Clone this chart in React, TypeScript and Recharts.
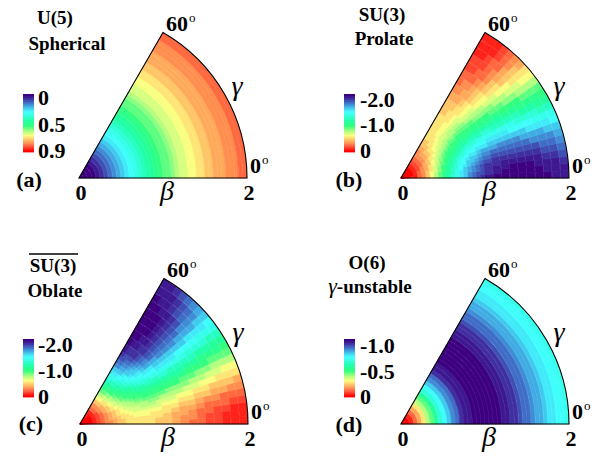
import React from 'react';
import { RadialBarChart, RadialBar, PolarAngleAxis, PolarRadiusAxis, Cell } from 'recharts';

const W = 606;
const H = 457;
const R = 168;

// ---------- data ----------
// beta ring centres (step 0.05) for gamma-independent surfaces
const betaFine = [
  0.025, 0.075, 0.125, 0.175, 0.225, 0.275, 0.325, 0.375, 0.425, 0.475,
  0.525, 0.575, 0.625, 0.675, 0.725, 0.775, 0.825, 0.875, 0.925, 0.975,
  1.025, 1.075, 1.125, 1.175, 1.225, 1.275, 1.325, 1.375, 1.425, 1.475,
  1.525, 1.575, 1.625, 1.675, 1.725, 1.775, 1.825, 1.875, 1.925, 1.975,
];
// U(5) spherical surface, by beta ring
const sphericalE = [
  0.0006, 0.0056, 0.0154, 0.0297, 0.0482, 0.0703, 0.0955, 0.1233, 0.153, 0.1841,
  0.2161, 0.2485, 0.2809, 0.313, 0.3445, 0.3752, 0.405, 0.4336, 0.4611, 0.4873,
  0.5123, 0.5361, 0.5586, 0.5799, 0.6001, 0.6191, 0.6371, 0.6541, 0.67, 0.6851,
  0.6993, 0.7127, 0.7253, 0.7372, 0.7485, 0.7591, 0.7691, 0.7785, 0.7875, 0.7959,
];
// O(6) gamma-unstable surface, by beta ring
const unstableE = [
  -0.0025, -0.0222, -0.0606, -0.1153, -0.1835, -0.2615, -0.3456, -0.4324, -0.5183, -0.6008,
  -0.6775, -0.7469, -0.808, -0.8601, -0.9033, -0.9377, -0.9639, -0.9824, -0.9939, -0.9994,
  -0.9994, -0.9948, -0.9863, -0.9745, -0.9599, -0.9432, -0.9248, -0.9051, -0.8844, -0.863,
  -0.8411, -0.819, -0.7969, -0.7749, -0.7531, -0.7315, -0.7104, -0.6896, -0.6694, -0.6497,
];

// gamma-dependent surfaces: inner beta rings (0..1, step 0.05), outer rings (1..2, step 0.1)
const betaInner = [
  0.025, 0.075, 0.125, 0.175, 0.225, 0.275, 0.325, 0.375, 0.425, 0.475,
  0.525, 0.575, 0.625, 0.675, 0.725, 0.775, 0.825, 0.875, 0.925, 0.975,
];
const betaOuter = [1.05, 1.15, 1.25, 1.35, 1.45, 1.55, 1.65, 1.75, 1.85, 1.95];
const gammaEdges = [
  0, 2.5, 5, 7.5, 10, 12.5, 15, 17.5, 20, 22.5, 25, 27.5, 30,
  32.5, 35, 37.5, 40, 42.5, 45, 47.5, 50, 52.5, 55, 57.5, 60,
];

// SU(3) prolate surface; rows = beta rings, columns = gamma slices from 0 to 60 deg
const prolateInner = [
  [-0.003, -0.003, -0.003, -0.003, -0.003, -0.003, -0.003, -0.003, -0.003, -0.003, -0.003, -0.003, -0.003, -0.003, -0.003, -0.003, -0.003, -0.003, -0.003, -0.003, -0.003, -0.003, -0.003, -0.003],
  [-0.02, -0.02, -0.02, -0.02, -0.02, -0.02, -0.02, -0.02, -0.02, -0.02, -0.02, -0.02, -0.02, -0.02, -0.02, -0.02, -0.02, -0.02, -0.02, -0.02, -0.02, -0.02, -0.02, -0.02],
  [-0.07, -0.07, -0.07, -0.07, -0.07, -0.06, -0.06, -0.06, -0.06, -0.06, -0.06, -0.06, -0.06, -0.06, -0.06, -0.06, -0.06, -0.06, -0.06, -0.06, -0.06, -0.06, -0.06, -0.06],
  [-0.13, -0.13, -0.13, -0.13, -0.13, -0.13, -0.12, -0.12, -0.12, -0.12, -0.12, -0.12, -0.12, -0.11, -0.11, -0.11, -0.11, -0.11, -0.11, -0.10, -0.10, -0.10, -0.10, -0.10],
  [-0.21, -0.21, -0.21, -0.21, -0.21, -0.21, -0.20, -0.20, -0.20, -0.19, -0.19, -0.19, -0.18, -0.18, -0.18, -0.17, -0.17, -0.17, -0.16, -0.16, -0.16, -0.16, -0.16, -0.16],
  [-0.32, -0.31, -0.31, -0.31, -0.31, -0.30, -0.30, -0.29, -0.29, -0.28, -0.27, -0.27, -0.26, -0.25, -0.25, -0.24, -0.24, -0.23, -0.23, -0.22, -0.22, -0.22, -0.21, -0.21],
  [-0.43, -0.43, -0.43, -0.42, -0.42, -0.41, -0.40, -0.39, -0.39, -0.38, -0.37, -0.36, -0.35, -0.34, -0.33, -0.32, -0.31, -0.30, -0.29, -0.28, -0.28, -0.28, -0.27, -0.27],
  [-0.55, -0.55, -0.55, -0.54, -0.54, -0.53, -0.52, -0.50, -0.49, -0.48, -0.46, -0.45, -0.43, -0.42, -0.40, -0.39, -0.38, -0.36, -0.35, -0.34, -0.34, -0.33, -0.33, -0.33],
  [-0.69, -0.68, -0.68, -0.67, -0.66, -0.65, -0.63, -0.62, -0.60, -0.58, -0.56, -0.54, -0.52, -0.50, -0.48, -0.46, -0.44, -0.43, -0.41, -0.40, -0.39, -0.38, -0.38, -0.37],
  [-0.82, -0.82, -0.81, -0.80, -0.79, -0.77, -0.75, -0.73, -0.71, -0.68, -0.66, -0.63, -0.60, -0.58, -0.55, -0.53, -0.51, -0.48, -0.47, -0.45, -0.44, -0.43, -0.42, -0.42],
  [-0.95, -0.95, -0.94, -0.93, -0.91, -0.89, -0.87, -0.84, -0.81, -0.78, -0.75, -0.72, -0.68, -0.65, -0.62, -0.59, -0.56, -0.54, -0.51, -0.49, -0.48, -0.46, -0.45, -0.45],
  [-1.08, -1.08, -1.07, -1.05, -1.03, -1.01, -0.98, -0.95, -0.91, -0.88, -0.84, -0.80, -0.76, -0.72, -0.68, -0.64, -0.61, -0.58, -0.55, -0.53, -0.51, -0.49, -0.48, -0.47],
  [-1.20, -1.20, -1.19, -1.17, -1.14, -1.12, -1.08, -1.05, -1.01, -0.96, -0.92, -0.87, -0.82, -0.78, -0.73, -0.69, -0.65, -0.61, -0.58, -0.55, -0.53, -0.51, -0.50, -0.49],
  [-1.32, -1.31, -1.30, -1.28, -1.25, -1.22, -1.18, -1.14, -1.09, -1.04, -0.99, -0.94, -0.88, -0.83, -0.78, -0.73, -0.68, -0.64, -0.60, -0.57, -0.54, -0.52, -0.51, -0.50],
  [-1.43, -1.42, -1.40, -1.38, -1.35, -1.31, -1.27, -1.22, -1.17, -1.11, -1.05, -0.99, -0.93, -0.87, -0.81, -0.76, -0.71, -0.66, -0.61, -0.58, -0.55, -0.52, -0.51, -0.50],
  [-1.52, -1.51, -1.50, -1.47, -1.44, -1.39, -1.35, -1.29, -1.24, -1.17, -1.11, -1.04, -0.97, -0.91, -0.84, -0.78, -0.72, -0.67, -0.62, -0.58, -0.55, -0.52, -0.50, -0.50],
  [-1.61, -1.60, -1.58, -1.55, -1.51, -1.47, -1.42, -1.36, -1.29, -1.23, -1.16, -1.08, -1.01, -0.94, -0.87, -0.80, -0.73, -0.68, -0.62, -0.58, -0.54, -0.51, -0.49, -0.48],
  [-1.68, -1.67, -1.65, -1.62, -1.58, -1.53, -1.48, -1.41, -1.35, -1.27, -1.20, -1.12, -1.04, -0.96, -0.88, -0.81, -0.74, -0.68, -0.62, -0.57, -0.53, -0.50, -0.48, -0.47],
  [-1.75, -1.74, -1.72, -1.68, -1.64, -1.59, -1.53, -1.46, -1.39, -1.31, -1.23, -1.14, -1.06, -0.97, -0.89, -0.81, -0.74, -0.67, -0.61, -0.56, -0.52, -0.48, -0.46, -0.45],
  [-1.81, -1.79, -1.77, -1.74, -1.69, -1.64, -1.57, -1.50, -1.42, -1.34, -1.25, -1.16, -1.07, -0.98, -0.90, -0.81, -0.74, -0.66, -0.60, -0.55, -0.50, -0.47, -0.44, -0.43],
];
const prolateOuter = [
  [-1.87, -1.86, -1.84, -1.80, -1.75, -1.69, -1.62, -1.55, -1.46, -1.37, -1.28, -1.18, -1.09, -0.99, -0.90, -0.81, -0.72, -0.65, -0.58, -0.52, -0.47, -0.43, -0.41, -0.40],
  [-1.94, -1.93, -1.90, -1.86, -1.81, -1.74, -1.67, -1.59, -1.50, -1.40, -1.30, -1.20, -1.09, -0.99, -0.89, -0.79, -0.70, -0.62, -0.54, -0.48, -0.43, -0.39, -0.36, -0.35],
  [-1.98, -1.96, -1.93, -1.89, -1.84, -1.77, -1.69, -1.61, -1.51, -1.41, -1.30, -1.19, -1.08, -0.97, -0.87, -0.77, -0.67, -0.58, -0.51, -0.44, -0.38, -0.34, -0.31, -0.30],
  [-2.00, -1.98, -1.95, -1.91, -1.85, -1.78, -1.70, -1.61, -1.51, -1.40, -1.29, -1.18, -1.07, -0.95, -0.84, -0.74, -0.64, -0.55, -0.47, -0.40, -0.34, -0.30, -0.27, -0.25],
  [-2.00, -1.98, -1.95, -1.91, -1.85, -1.78, -1.69, -1.60, -1.50, -1.39, -1.28, -1.16, -1.04, -0.93, -0.82, -0.71, -0.61, -0.51, -0.43, -0.36, -0.30, -0.26, -0.22, -0.21],
  [-1.99, -1.97, -1.94, -1.90, -1.84, -1.76, -1.68, -1.59, -1.48, -1.37, -1.26, -1.14, -1.02, -0.90, -0.79, -0.68, -0.57, -0.48, -0.40, -0.32, -0.26, -0.22, -0.19, -0.17],
  [-1.97, -1.95, -1.92, -1.88, -1.82, -1.74, -1.66, -1.56, -1.46, -1.35, -1.23, -1.11, -0.99, -0.87, -0.76, -0.65, -0.54, -0.45, -0.36, -0.29, -0.23, -0.19, -0.15, -0.14],
  [-1.94, -1.93, -1.90, -1.85, -1.79, -1.72, -1.63, -1.54, -1.43, -1.32, -1.21, -1.09, -0.97, -0.85, -0.73, -0.62, -0.52, -0.42, -0.34, -0.26, -0.20, -0.16, -0.13, -0.11],
  [-1.91, -1.90, -1.87, -1.82, -1.76, -1.69, -1.60, -1.51, -1.40, -1.29, -1.18, -1.06, -0.94, -0.82, -0.71, -0.59, -0.49, -0.40, -0.31, -0.24, -0.18, -0.13, -0.10, -0.09],
  [-1.88, -1.87, -1.83, -1.79, -1.73, -1.66, -1.57, -1.48, -1.38, -1.27, -1.15, -1.03, -0.91, -0.80, -0.68, -0.57, -0.47, -0.37, -0.29, -0.22, -0.16, -0.11, -0.08, -0.07],
];

// SU(3)-bar oblate surface; rows = beta rings, columns = gamma slices from 0 to 60 deg
const oblateInner = [
  [-0.003, -0.003, -0.003, -0.003, -0.003, -0.003, -0.003, -0.003, -0.003, -0.003, -0.003, -0.003, -0.003, -0.003, -0.003, -0.003, -0.003, -0.003, -0.003, -0.003, -0.003, -0.003, -0.003, -0.003],
  [-0.02, -0.02, -0.02, -0.02, -0.02, -0.02, -0.02, -0.02, -0.02, -0.02, -0.02, -0.02, -0.02, -0.02, -0.02, -0.02, -0.02, -0.02, -0.02, -0.02, -0.02, -0.02, -0.02, -0.02],
  [-0.06, -0.06, -0.06, -0.06, -0.06, -0.06, -0.06, -0.06, -0.06, -0.06, -0.06, -0.06, -0.06, -0.06, -0.06, -0.06, -0.06, -0.06, -0.06, -0.07, -0.07, -0.07, -0.07, -0.07],
  [-0.10, -0.10, -0.10, -0.10, -0.10, -0.11, -0.11, -0.11, -0.11, -0.11, -0.11, -0.12, -0.12, -0.12, -0.12, -0.12, -0.12, -0.12, -0.13, -0.13, -0.13, -0.13, -0.13, -0.13],
  [-0.16, -0.16, -0.16, -0.16, -0.16, -0.16, -0.17, -0.17, -0.17, -0.18, -0.18, -0.18, -0.19, -0.19, -0.19, -0.20, -0.20, -0.20, -0.21, -0.21, -0.21, -0.21, -0.21, -0.21],
  [-0.21, -0.21, -0.22, -0.22, -0.22, -0.23, -0.23, -0.24, -0.24, -0.25, -0.25, -0.26, -0.27, -0.27, -0.28, -0.29, -0.29, -0.30, -0.30, -0.31, -0.31, -0.31, -0.31, -0.32],
  [-0.27, -0.27, -0.28, -0.28, -0.28, -0.29, -0.30, -0.31, -0.32, -0.33, -0.34, -0.35, -0.36, -0.37, -0.38, -0.39, -0.39, -0.40, -0.41, -0.42, -0.42, -0.43, -0.43, -0.43],
  [-0.33, -0.33, -0.33, -0.34, -0.34, -0.35, -0.36, -0.38, -0.39, -0.40, -0.42, -0.43, -0.45, -0.46, -0.48, -0.49, -0.50, -0.52, -0.53, -0.54, -0.54, -0.55, -0.55, -0.55],
  [-0.37, -0.38, -0.38, -0.39, -0.40, -0.41, -0.43, -0.44, -0.46, -0.48, -0.50, -0.52, -0.54, -0.56, -0.58, -0.60, -0.62, -0.63, -0.65, -0.66, -0.67, -0.68, -0.68, -0.69],
  [-0.42, -0.42, -0.43, -0.44, -0.45, -0.47, -0.48, -0.51, -0.53, -0.55, -0.58, -0.60, -0.63, -0.66, -0.68, -0.71, -0.73, -0.75, -0.77, -0.79, -0.80, -0.81, -0.82, -0.82],
  [-0.45, -0.45, -0.46, -0.48, -0.49, -0.51, -0.54, -0.56, -0.59, -0.62, -0.65, -0.68, -0.72, -0.75, -0.78, -0.81, -0.84, -0.87, -0.89, -0.91, -0.93, -0.94, -0.95, -0.95],
  [-0.47, -0.48, -0.49, -0.51, -0.53, -0.55, -0.58, -0.61, -0.64, -0.68, -0.72, -0.76, -0.80, -0.84, -0.88, -0.91, -0.95, -0.98, -1.01, -1.03, -1.05, -1.07, -1.08, -1.08],
  [-0.49, -0.50, -0.51, -0.53, -0.55, -0.58, -0.61, -0.65, -0.69, -0.73, -0.78, -0.82, -0.87, -0.92, -0.96, -1.01, -1.05, -1.08, -1.12, -1.14, -1.17, -1.19, -1.20, -1.20],
  [-0.50, -0.51, -0.52, -0.54, -0.57, -0.60, -0.64, -0.68, -0.73, -0.78, -0.83, -0.88, -0.94, -0.99, -1.04, -1.09, -1.14, -1.18, -1.22, -1.25, -1.28, -1.30, -1.31, -1.32],
  [-0.50, -0.51, -0.52, -0.55, -0.58, -0.61, -0.66, -0.71, -0.76, -0.81, -0.87, -0.93, -0.99, -1.05, -1.11, -1.17, -1.22, -1.27, -1.31, -1.35, -1.38, -1.40, -1.42, -1.43],
  [-0.50, -0.50, -0.52, -0.55, -0.58, -0.62, -0.67, -0.72, -0.78, -0.84, -0.91, -0.97, -1.04, -1.11, -1.17, -1.24, -1.29, -1.35, -1.39, -1.44, -1.47, -1.50, -1.51, -1.52],
  [-0.48, -0.49, -0.51, -0.54, -0.58, -0.62, -0.68, -0.73, -0.80, -0.87, -0.94, -1.01, -1.08, -1.16, -1.23, -1.29, -1.36, -1.42, -1.47, -1.51, -1.55, -1.58, -1.60, -1.61],
  [-0.47, -0.48, -0.50, -0.53, -0.57, -0.62, -0.68, -0.74, -0.81, -0.88, -0.96, -1.04, -1.12, -1.20, -1.27, -1.35, -1.41, -1.48, -1.53, -1.58, -1.62, -1.65, -1.67, -1.68],
  [-0.45, -0.46, -0.48, -0.52, -0.56, -0.61, -0.67, -0.74, -0.81, -0.89, -0.97, -1.06, -1.14, -1.23, -1.31, -1.39, -1.46, -1.53, -1.59, -1.64, -1.68, -1.72, -1.74, -1.75],
  [-0.43, -0.44, -0.47, -0.50, -0.55, -0.60, -0.66, -0.74, -0.81, -0.90, -0.98, -1.07, -1.16, -1.25, -1.34, -1.42, -1.50, -1.57, -1.64, -1.69, -1.74, -1.77, -1.79, -1.81],
];
const oblateOuter = [
  [-0.40, -0.41, -0.43, -0.47, -0.52, -0.58, -0.65, -0.72, -0.81, -0.90, -0.99, -1.09, -1.18, -1.28, -1.37, -1.46, -1.55, -1.62, -1.69, -1.75, -1.80, -1.84, -1.86, -1.87],
  [-0.35, -0.36, -0.39, -0.43, -0.48, -0.54, -0.62, -0.70, -0.79, -0.89, -0.99, -1.09, -1.20, -1.30, -1.40, -1.50, -1.59, -1.67, -1.74, -1.81, -1.86, -1.90, -1.93, -1.94],
  [-0.30, -0.31, -0.34, -0.38, -0.44, -0.51, -0.58, -0.67, -0.77, -0.87, -0.97, -1.08, -1.19, -1.30, -1.41, -1.51, -1.61, -1.69, -1.77, -1.84, -1.89, -1.93, -1.96, -1.98],
  [-0.25, -0.27, -0.30, -0.34, -0.40, -0.47, -0.55, -0.64, -0.74, -0.84, -0.95, -1.07, -1.18, -1.29, -1.40, -1.51, -1.61, -1.70, -1.78, -1.85, -1.91, -1.95, -1.98, -2.00],
  [-0.21, -0.22, -0.26, -0.30, -0.36, -0.43, -0.51, -0.61, -0.71, -0.82, -0.93, -1.04, -1.16, -1.28, -1.39, -1.50, -1.60, -1.69, -1.78, -1.85, -1.91, -1.95, -1.98, -2.00],
  [-0.17, -0.19, -0.22, -0.26, -0.32, -0.40, -0.48, -0.57, -0.68, -0.79, -0.90, -1.02, -1.14, -1.26, -1.37, -1.48, -1.59, -1.68, -1.76, -1.84, -1.90, -1.94, -1.97, -1.99],
  [-0.14, -0.15, -0.19, -0.23, -0.29, -0.36, -0.45, -0.54, -0.65, -0.76, -0.87, -0.99, -1.11, -1.23, -1.35, -1.46, -1.56, -1.66, -1.74, -1.82, -1.88, -1.92, -1.95, -1.97],
  [-0.11, -0.13, -0.16, -0.20, -0.26, -0.34, -0.42, -0.52, -0.62, -0.73, -0.85, -0.97, -1.09, -1.21, -1.32, -1.43, -1.54, -1.63, -1.72, -1.79, -1.85, -1.90, -1.93, -1.94],
  [-0.09, -0.10, -0.13, -0.18, -0.24, -0.31, -0.40, -0.49, -0.59, -0.71, -0.82, -0.94, -1.06, -1.18, -1.29, -1.40, -1.51, -1.60, -1.69, -1.76, -1.82, -1.87, -1.90, -1.91],
  [-0.07, -0.08, -0.11, -0.16, -0.22, -0.29, -0.37, -0.47, -0.57, -0.68, -0.80, -0.91, -1.03, -1.15, -1.27, -1.38, -1.48, -1.57, -1.66, -1.73, -1.79, -1.83, -1.87, -1.88],
];

// colour-scale ranges and tick labels
const sphericalRange = [0, 0.9];
const prolateRange = [-2.0, 0];
const oblateRange = [-2.0, 0];
const unstableRange = [-1.0, 0];
const sphericalTicks = ['0', '0.5', '0.9'];
const prolateTicks = ['-2.0', '-1.0', '0'];
const oblateTicks = ['-2.0', '-1.0', '0'];
const unstableTicks = ['-1.0', '-0.5', '0'];

const titlesA = ['U(5)', 'Spherical'];
const titlesB = ['SU(3)', 'Prolate'];
const titlesC = ['SU(3)', 'Oblate'];
const titlesD = ['O(6)', '-unstable'];
const panelLetters = ['(a)', '(b)', '(c)', '(d)'];
const betaTicks = ['0', '2'];
const gammaTicks = ['0', '60'];

// ---------- colour map ----------
const STOPS: [number, number, number, number][] = [
  [0.0, 255, 0, 0],
  [0.07, 255, 70, 48],
  [0.14, 255, 144, 80],
  [0.21, 255, 200, 104],
  [0.27, 255, 255, 128],
  [0.35, 176, 255, 128],
  [0.45, 48, 255, 128],
  [0.55, 32, 255, 168],
  [0.63, 48, 255, 224],
  [0.7, 64, 255, 255],
  [0.78, 64, 184, 232],
  [0.86, 64, 112, 200],
  [0.93, 64, 48, 160],
  [1.0, 60, 0, 128],
];
const LEVELS = 30;
function colorAt(t: number): string {
  let u = Math.max(0, Math.min(1, t));
  u = Math.min(LEVELS - 1, Math.floor(u * LEVELS)) / (LEVELS - 1);
  for (let k = 1; k < STOPS.length; k++) {
    const a = STOPS[k - 1];
    const b = STOPS[k];
    if (u <= b[0]) {
      const f = (u - a[0]) / (b[0] - a[0]);
      const r = Math.round(a[1] + (b[1] - a[1]) * f);
      const g = Math.round(a[2] + (b[2] - a[2]) * f);
      const bl = Math.round(a[3] + (b[3] - a[3]) * f);
      return `rgb(${r},${g},${bl})`;
    }
  }
  return 'rgb(60,0,128)';
}
// t = 0 -> red end of the bar (bottom), t = 1 -> indigo end (top)
const tSpherical = (v: number) => 1 - (v - sphericalRange[0]) / (sphericalRange[1] - sphericalRange[0]);
const tNegative = (range: number[]) => (v: number) => (range[1] - v) / (range[1] - range[0]);

// ---------- chart rows ----------
const fullRows = betaFine.map((b) => ({ beta: b, full: gammaEdges[gammaEdges.length - 1] - gammaEdges[0] }));
const sliceKeys = gammaEdges.slice(1).map((_, j) => `s${j}`);
const makeSliceRows = (betas: number[]) =>
  betas.map((b) => {
    const r: Record<string, number> = { beta: b };
    gammaEdges.slice(1).forEach((g, j) => {
      r[`s${j}`] = g - gammaEdges[j];
    });
    return r;
  });
const innerRows = makeSliceRows(betaInner);
const outerRows = makeSliceRows(betaOuter);

type SurfaceProps = {
  ox: number;
  oy: number;
  r0: number;
  r1: number;
  rows: Record<string, number>[];
  keys: string[];
  colors: string[][];
};

function Surface({ ox, oy, r0, r1, rows, keys, colors }: SurfaceProps) {
  return (
    <div style={{ position: 'absolute', left: 0, top: 0 }}>
      <RadialBarChart
        width={W}
        height={H}
        data={rows}
        cx={ox}
        cy={oy}
        innerRadius={r0}
        outerRadius={r1}
        startAngle={0}
        endAngle={60}
        barCategoryGap={0}
        barGap={0}
        margin={{ top: 0, right: 0, bottom: 0, left: 0 }}
      >
        <PolarAngleAxis type="number" domain={[0, 60]} tick={false} tickLine={false} axisLine={false} />
        <PolarRadiusAxis type="category" dataKey="beta" tick={false} tickLine={false} axisLine={false} />
        {keys.map((k, j) => (
          <RadialBar key={k} dataKey={k} stackId="gamma" isAnimationActive={false}>
            {rows.map((_, i) => (
              <Cell key={i} fill={colors[i][j]} stroke={colors[i][j]} strokeWidth={0.7} />
            ))}
          </RadialBar>
        ))}
      </RadialBarChart>
    </div>
  );
}

const FONT = '"Liberation Serif", "Times New Roman", Times, serif';

type Layout = {
  ox: number;
  oy: number;
  barX: number;
  barY: number;
  labX: number;
  tickBase: number[];
  titleX: number[];
  titleY: number[];
  letterX: number;
  letterY: number;
};

const layouts: Layout[] = [
  { ox: 79, oy: 178, barX: 23, barY: 94, labX: 38, tickBase: [105, 132, 158], titleX: [55, 67], titleY: [24, 50], letterX: 29, letterY: 187 },
  { ox: 401, oy: 178, barX: 344, barY: 94, labX: 360, tickBase: [107, 132, 158], titleX: [382, 384], titleY: [21, 45], letterX: 349, letterY: 187 },
  { ox: 80, oy: 424, barX: 23, barY: 339, labX: 38, tickBase: [352, 378, 404], titleX: [53, 55], titleY: [272, 297], letterX: 31, letterY: 431 },
  { ox: 401, oy: 424, barX: 344, barY: 339, labX: 360, tickBase: [353, 379, 404], titleX: [367, 370], titleY: [269, 293], letterX: 349, letterY: 432 },
];

const BAR_W = 11;
const BAR_H = 58;

function Overlay() {
  const tickSets = [sphericalTicks, prolateTicks, oblateTicks, unstableTicks];
  const titleSets = [titlesA, titlesB, titlesC, titlesD];
  const c60 = Math.cos(Math.PI / 3);
  const s60 = Math.sin(Math.PI / 3);
  const txt = { fontFamily: FONT };
  return (
    <svg width={W} height={H} style={{ position: 'absolute', left: 0, top: 0, fontFamily: FONT }}>
      {layouts.map((L, p) => {
        const bands = Array.from({ length: LEVELS }, (_, k) => k);
        const bh = BAR_H / LEVELS;
        return (
          <g key={p}>
            <path
              d={`M ${L.ox} ${L.oy} L ${L.ox + R} ${L.oy} A ${R} ${R} 0 0 0 ${L.ox + R * c60} ${L.oy - R * s60} Z`}
              fill="none"
              stroke="#000"
              strokeWidth={1.1}
            />
            {bands.map((k) => (
              <rect
                key={k}
                x={L.barX}
                y={L.barY + k * bh}
                width={BAR_W}
                height={bh + 0.4}
                fill={colorAt(1 - (k + 0.5) / LEVELS)}
              />
            ))}
            {tickSets[p].map((t, k) => (
              <text key={k} x={L.labX} y={L.tickBase[k]} fontSize={22} fontWeight="bold" style={txt}>
                {t}
              </text>
            ))}
            <text x={L.titleX[0]} y={L.titleY[0]} fontSize={19} fontWeight="bold" textAnchor="middle" style={txt}>
              {titleSets[p][0]}
            </text>
            <text x={L.titleX[1]} y={L.titleY[1]} fontSize={19} fontWeight="bold" textAnchor="middle" style={txt}>
              {p === 3 ? (
                <>
                  <tspan fontStyle="italic" fontWeight="normal" fontSize={22}>γ</tspan>
                  {titleSets[p][1]}
                </>
              ) : (
                titleSets[p][1]
              )}
            </text>
            {p === 2 && <line x1={29} x2={78} y1={254} y2={254} stroke="#000" strokeWidth={1.3} />}
            <text x={L.letterX} y={L.letterY} fontSize={22} fontWeight="bold" textAnchor="middle" style={txt}>
              {panelLetters[p]}
            </text>
            <text x={L.ox + 2} y={L.oy + 22} fontSize={22} fontWeight="bold" textAnchor="middle" style={txt}>
              {betaTicks[0]}
            </text>
            <text x={L.ox + 170} y={L.oy + 22} fontSize={22} fontWeight="bold" textAnchor="middle" style={txt}>
              {betaTicks[1]}
            </text>
            <text x={L.ox + 88} y={L.oy + 22} fontSize={28} fontStyle="italic" textAnchor="middle" style={txt}>
              β
            </text>
            <text x={L.ox + 158} y={L.oy - 83} fontSize={28} fontStyle="italic" textAnchor="middle" style={txt}>
              γ
            </text>
            <text x={L.ox + 87} y={L.oy - 147} fontSize={22} fontWeight="bold" style={txt}>
              {gammaTicks[1]}
            </text>
            <text x={L.ox + 110} y={L.oy - 156} fontSize={13} style={txt}>
              o
            </text>
            <text x={L.ox + 171} y={L.oy - 5} fontSize={22} fontWeight="bold" style={txt}>
              {gammaTicks[0]}
            </text>
            <text x={L.ox + 183} y={L.oy - 14} fontSize={13} style={txt}>
              o
            </text>
          </g>
        );
      })}
    </svg>
  );
}

export default function App() {
  const colA = sphericalE.map((v) => [colorAt(tSpherical(v))]);
  const colD = unstableE.map((v) => [colorAt(tNegative(unstableRange)(v))]);
  const tp = tNegative(prolateRange);
  const to = tNegative(oblateRange);
  const colBi = prolateInner.map((row) => row.map((v) => colorAt(tp(v))));
  const colBo = prolateOuter.map((row) => row.map((v) => colorAt(tp(v))));
  const colCi = oblateInner.map((row) => row.map((v) => colorAt(to(v))));
  const colCo = oblateOuter.map((row) => row.map((v) => colorAt(to(v))));
  const half = R / 2;
  return (
    <div style={{ position: 'absolute', left: 0, top: 0, width: W, height: H, background: '#fff', fontFamily: FONT }}>
      <Surface ox={layouts[0].ox} oy={layouts[0].oy} r0={0} r1={R} rows={fullRows} keys={['full']} colors={colA} />
      <Surface ox={layouts[1].ox} oy={layouts[1].oy} r0={0} r1={half} rows={innerRows} keys={sliceKeys} colors={colBi} />
      <Surface ox={layouts[1].ox} oy={layouts[1].oy} r0={half} r1={R} rows={outerRows} keys={sliceKeys} colors={colBo} />
      <Surface ox={layouts[2].ox} oy={layouts[2].oy} r0={0} r1={half} rows={innerRows} keys={sliceKeys} colors={colCi} />
      <Surface ox={layouts[2].ox} oy={layouts[2].oy} r0={half} r1={R} rows={outerRows} keys={sliceKeys} colors={colCo} />
      <Surface ox={layouts[3].ox} oy={layouts[3].oy} r0={0} r1={R} rows={fullRows} keys={['full']} colors={colD} />
      <Overlay />
    </div>
  );
}
